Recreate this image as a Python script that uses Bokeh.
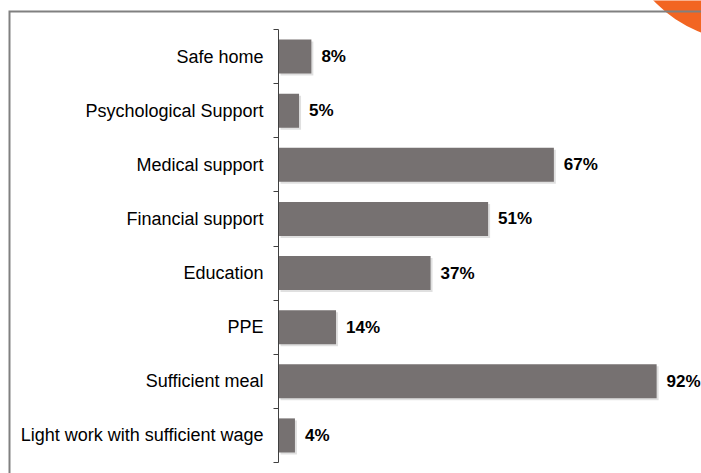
from bokeh.plotting import figure
from bokeh.models import Range1d, FixedTicker
from bokeh.core.properties import value
from bokeh.embed import file_html
from bokeh.resources import INLINE

categories = ["Safe home", "Psychological Support", "Medical support", "Financial support",
              "Education", "PPE", "Sufficient meal", "Light work with sufficient wage"]
percentages = [8, 5, 67, 51, 37, 14, 92, 4]
value_labels = ["8%", "5%", "67%", "51%", "37%", "14%", "92%", "4%"]

W, H = 701, 473
AXIS_PX = 278          # screen x of the category axis
PX_X = 4.11            # pixels per percentage point
TOP_PX, BOT_PX = 29, 462
n = len(categories)
PX_Y = (BOT_PX - TOP_PX) / n
x0 = -AXIS_PX / PX_X
x1 = (W - AXIS_PX) / PX_X
y0 = -(H - BOT_PX) / PX_Y
y1 = n + TOP_PX / PX_Y

ys = [n - i - 0.5 for i in range(n)]
FONT = value("Liberation Sans")

p = figure(width=W, height=H, x_range=Range1d(x0, x1), y_range=Range1d(y0, y1),
           output_backend="svg", toolbar_location=None, x_axis_location=None,
           min_border=0, min_border_left=0, min_border_right=0,
           min_border_top=0, min_border_bottom=0)
p.outline_line_color = None
p.xgrid.visible = False
p.ygrid.visible = False
p.background_fill_color = "white"
p.border_fill_color = "white"

# decorative orange corner shape and frame border
p.scatter(x=[x0 + 745 / PX_X], y=[y1 + 86 / PX_Y], size=252,
          fill_color="#F26522", line_color=None)
xl = x0 + 9 / PX_X
yt = y1 - 11 / PX_Y
p.line(x=[xl, xl, x1 + 10], y=[y0 - 1, yt, yt], line_color="#808080",
       line_width=2, line_join="miter")

# bar shadows and bars
bar_h = 0.63
p.hbar(y=[y - 2 / PX_Y for y in ys], left=2 / PX_X,
       right=[v + 2 / PX_X for v in percentages], height=bar_h,
       fill_color="black", fill_alpha=0.12, line_color=None)
p.hbar(y=ys, left=0, right=percentages, height=bar_h,
       fill_color="#767171", line_color=None)

p.text(x=percentages, y=ys, text=value_labels, x_offset=10,
       text_align="left", text_baseline="middle", text_font=FONT,
       text_font_style="bold", text_font_size="17px", text_color="black")

ax = p.yaxis[0]
ax.fixed_location = 0
ax.bounds = (0, n)
ax.ticker = FixedTicker(ticks=ys, minor_ticks=list(range(n + 1)))
ax.major_label_overrides = {y: c for y, c in zip(ys, categories)}
ax.major_tick_out = 0
ax.major_tick_in = 0
ax.minor_tick_out = 5
ax.minor_tick_in = 0
ax.minor_tick_line_color = "#404040"
ax.axis_line_color = "#404040"
ax.axis_line_width = 1
ax.major_label_standoff = 10
ax.major_label_text_font = "Liberation Sans"
ax.major_label_text_font_size = "18px"
ax.major_label_text_color = "black"

open("out.html", "w").write(file_html(p, INLINE))
